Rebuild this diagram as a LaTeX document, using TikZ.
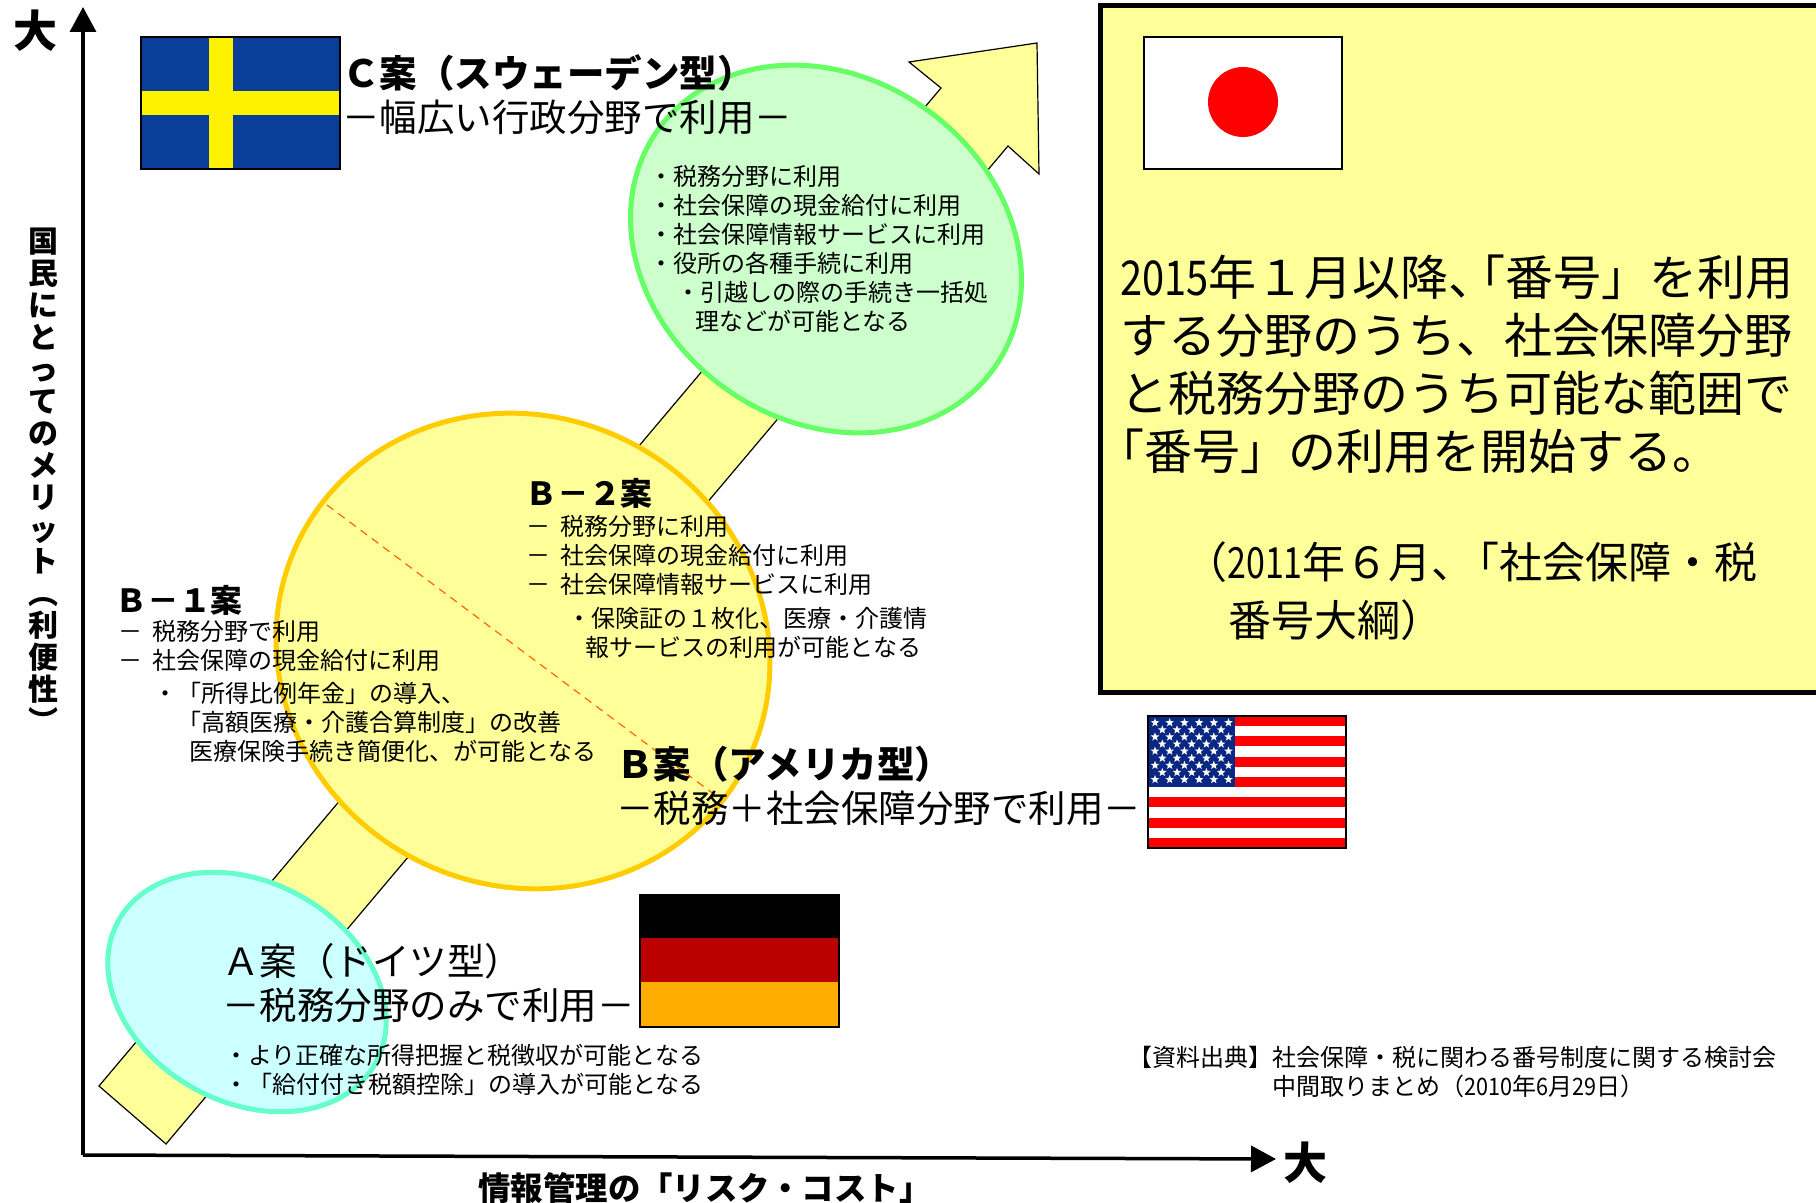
\documentclass[tikz,border=0pt]{standalone}
\usepackage{graphicx}
\usepackage{fontspec}
\setmainfont{Noto Sans CJK JP}
\usetikzlibrary{arrows.meta,shapes.geometric}
\definecolor{paleyellow}{HTML}{FFFF99}
\newcommand{\narrowdigits}[2][0.83]{\scalebox{#1}[1]{#2}}
\tikzset{
  axisline/.style={line width=1.75pt,-{Triangle[length=12.5pt,width=13pt]}},
  plan/.style={ellipse,inner sep=0pt,line width=2.5pt},
  txtsmall/.style={anchor=west,inner sep=0pt,align=left,font=\fontsize{12}{14.5}\selectfont},
  txthead/.style={anchor=west,inner sep=0pt,align=left,font=\fontsize{15.9}{18}\selectfont\bfseries},
  txttitle/.style={anchor=west,inner sep=0pt,align=left,font=\fontsize{18.75}{22}\selectfont},
  txtbox/.style={anchor=west,inner sep=0pt,align=left,font=\fontsize{24}{29}\selectfont},
  txtaxis/.style={inner sep=0pt,align=center,font=\fontsize{15}{16}\selectfont\bfseries},
  txtbig/.style={inner sep=0pt,font=\fontsize{22}{24}\selectfont\bfseries},
  flagline/.style={draw=black,line width=0.6pt}
}
\begin{document}
\begin{tikzpicture}[x=0.5pt,y=-0.5pt]
\useasboundingbox (0,0) rectangle (1816,1203);
% broad arrow
\draw[fill=paleyellow,line width=0.6pt] (99,1086) -- (941,88) -- (909,62) -- (1037,43) -- (1039,174) -- (1008,146) -- (166,1144) -- cycle;
% axes
\coordinate (org) at (83,1155);
\coordinate (ytip) at (83,7);
\coordinate (xtip) at (1276,1159);
\draw[axisline] (org) -- (ytip);
\draw[axisline] (org) -- (xtip);
\node[txtbig] (ybig) at (35,31) {大};
\node[txtbig] (xbig) at (1305,1163) {大};
\node[txtaxis] (ylabel) at (43,480) {国\\民\\に\\と\\っ\\て\\の\\メ\\リ\\ッ\\ト\\︵\\利\\便\\性\\︶};
\node[txtaxis,font=\fontsize{16.2}{18}\selectfont\bfseries] (xlabel) at (705,1188) {情報管理の「リスク・コスト」};
% plans
\node[plan,draw={rgb,255:red,102;green,255;blue,102},fill={rgb,255:red,204;green,255;blue,204},rotate=-35,minimum width=206pt,minimum height=172pt] (planC) at (826,249) {};
\node[plan,draw={rgb,255:red,255;green,204;blue,0},fill=paleyellow,rotate=-27,minimum width=250pt,minimum height=234.5pt] (planB) at (523,651) {};
\node[plan,draw={rgb,255:red,102;green,255;blue,204},fill={rgb,255:red,204;green,255;blue,255},rotate=-29,minimum width=147pt,minimum height=110pt] (planA) at (247,992) {};
\coordinate (cutA) at (327,505);
\coordinate (cutB) at (719,798);
\draw[dash pattern=on 4pt off 3pt,line width=0.6pt,color={rgb,255:red,255;green,102;blue,0}] (cutA) -- (cutB);
% box
\draw[fill=paleyellow,line width=2.5pt] (1100,6) rectangle (1830,692);
% sweden
\fill[fill={rgb,255:red,10;green,63;blue,153}] (141,37) rectangle (340,169);
\fill[yellow] (209,37) rectangle (233,169);
\fill[yellow] (141,91) rectangle (340,115);
\draw[flagline] (141,37) rectangle (340,169);
% japan
\draw[fill=white,flagline] (1144,37) rectangle (1342,169);
\fill[red] (1243,102) circle (17.5pt);
% usa
\fill[white] (1148,716) rectangle (1346,848);
\foreach \i in {0,2,...,12}
  \fill[red] (1148,{716+\i*10.15}) rectangle (1346,{716+(\i+1)*10.15});
\fill[fill={rgb,255:red,10;green,40;blue,130}] (1148,716) rectangle (1235,787);
\foreach \r in {0,2,...,8}
  \foreach \c in {0,...,5}
    \node[star,star points=5,star point ratio=2.4,fill=white,inner sep=0pt,minimum size=4.5pt] (sa\r\c) at ({1155+\c*14.7},{722.7+\r*7.1}) {};
\foreach \r in {1,3,...,7}
  \foreach \c in {0,...,4}
    \node[star,star points=5,star point ratio=2.4,fill=white,inner sep=0pt,minimum size=4.5pt] (sb\r\c) at ({1162.3+\c*14.7},{722.7+\r*7.1}) {};
\draw[flagline] (1148,716) rectangle (1346,848);
% germany
\fill[black] (640,895) rectangle (839,938);
\fill[fill={rgb,255:red,187;green,0;blue,0}] (640,938) rectangle (839,982);
\fill[fill={rgb,255:red,255;green,173;blue,0}] (640,982) rectangle (839,1027);
\draw[flagline,line width=1pt] (640,895) rectangle (839,1027);
% texts
\node[txttitle] (titleC) at (342,95) {\textbf{Ｃ案（スウェーデン型）}\\－幅広い行政分野で利用－};
\node[txtsmall] (listC) at (649,249) {・税務分野に利用\\・社会保障の現金給付に利用\\・社会保障情報サービスに利用\\・役所の各種手続に利用\\\hspace{13.5pt}・引越しの際の手続き一括処\\\hspace{23pt}理などが可能となる};
\node[txthead] (headBtwo) at (525,493) {Ｂ－２案};
\node[txtsmall] (listBtwo) at (526.5,555) {－\hspace{5pt}税務分野に利用\\－\hspace{5pt}社会保障の現金給付に利用\\－\hspace{5pt}社会保障情報サービスに利用};
\node[txtsmall] (subBtwo) at (567,633) {・保険証の１枚化、医療・介護情\\\hspace{9.25pt}報サービスの利用が可能となる};
\node[txthead] (headBone) at (115,600) {Ｂ－１案};
\node[txtsmall] (listBone) at (118,646) {－\hspace{5pt}税務分野で利用\\－\hspace{5pt}社会保障の現金給付に利用};
\node[txtsmall] (subBone) at (153,722) {・「所得比例年金」の導入、\\\hspace{12pt}「高額医療・介護合算制度」の改善\\\hspace{18pt}医療保険手続き簡便化、が可能となる};
\node[txttitle] (titleB) at (616,786) {\textbf{Ｂ案（アメリカ型）}\\－税務＋社会保障分野で利用－};
\node[txttitle] (titleA) at (222,983) {Ａ案（ドイツ型）\\－税務分野のみで利用－};
\node[txtsmall] (subA) at (224,1070) {・より正確な所得把握と税徴収が可能となる\\・「給付付き税額控除」の導入が可能となる};
\node[txtsmall] (source) at (1128,1072) {【資料出典】社会保障・税に関わる番号制度に関する検討会\\\hspace{72pt}中間取りまとめ（\narrowdigits[0.9]{2010}年\narrowdigits[0.9]{6}月\narrowdigits[0.9]{29}日）};
\node[txtbox] (boxmain) at (1120,364) {\narrowdigits{2015}年１月以降、\hspace{-19.5pt}「番号」を利用\\する分野のうち、社会保障分野\\と税務分野のうち可能な範囲で\\\hspace{-12pt}「番号」の利用を開始する。};
\node[txtbox,font=\fontsize{21.5}{29}\selectfont] (boxdate) at (1184,591) {（\narrowdigits[0.79]{2011}年６月、\hspace{-9pt}「社会保障・税\\\hspace{22pt}番号大綱）};
\end{tikzpicture}
\end{document}
